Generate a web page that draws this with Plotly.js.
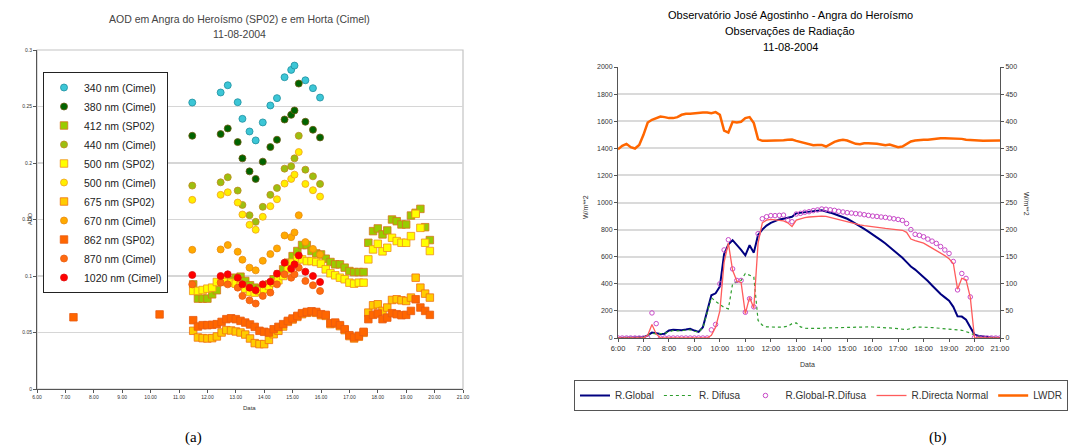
<!DOCTYPE html>
<html>
<head>
<meta charset="utf-8">
<script src="https://cdn.plot.ly/plotly-3.0.1.min.js"></script>
<style>html,body{margin:0;padding:0;background:#fff;}#chart{width:1070px;height:446px;}</style>
</head>
<body>
<div id="chart"></div>
<script>
// ---------- (a) AOD chart data ----------
var cimelTimes = ["11:28","12:28","12:43","13:04","13:14","13:29","13:42","13:57","14:13","14:27","14:43","14:57","15:04","15:13","15:27","15:43","15:58"];
var aod340  = [0.2535,0.2624,0.2688,0.2538,0.2391,0.2279,0.2200,0.2359,0.2509,0.2574,0.2759,0.2824,0.2862,null,0.2732,0.2662,0.2579];
var aod380  = [0.2241,0.2256,0.2306,0.2185,0.2041,0.1926,0.1859,0.2012,0.2141,0.2206,0.2385,0.2426,0.2465,0.2703,0.2365,0.2294,0.2226];
var aod440  = [0.1800,0.1829,0.1874,0.1756,0.1629,0.1538,0.1479,0.1612,0.1718,0.1779,0.1950,0.1971,0.2041,0.2241,0.1941,0.1882,0.1815];
var aod500c = [0.1674,0.1718,0.1741,0.1650,0.1544,0.1453,0.1409,0.1524,0.1618,0.1679,0.1818,0.1859,0.1897,0.2097,0.1815,0.1759,0.1703];
var aod670  = [0.1232,0.1235,0.1274,0.1215,0.1144,0.1074,0.1050,0.1135,0.1194,0.1244,0.1359,0.1344,0.1385,0.1538,0.1300,0.1240,0.1190];
var aod870  = [0.0926,0.0941,0.0926,0.0897,0.0824,0.0785,0.0756,0.0824,0.0853,0.0926,0.1015,0.0985,0.1015,0.1074,0.0956,0.0918,0.0868];
var aod1020 = [0.1009,0.1000,0.1015,0.0985,0.0926,0.0897,0.0874,0.0926,0.0950,0.1021,0.1118,0.1065,0.1103,0.1182,0.1038,0.1000,0.0947];

var sp02Times = ["11:30","11:40","11:50","12:00","12:10","12:20","12:30","12:40","12:50","13:00",
                 "13:10","13:20","13:30","13:40","13:50","14:00","14:10","14:20","14:30","14:40",
                 "14:50","15:00","15:10","15:20","15:30","15:40","15:50","16:00","16:10","16:20",
                 "16:30","16:40","16:50","17:00","17:10","17:20","17:30",
                 "17:40","17:50","18:00","18:10","18:20","18:30","18:40","18:50","19:00","19:10",
                 "19:20","19:30","19:40","19:50"];
var aod412 = [0.0926,0.0800,0.0800,0.0800,0.0838,0.0874,0.0976,0.0971,0.0962,0.0985,
              0.0994,0.0956,0.0918,0.0897,0.0882,0.0897,0.0926,0.0971,0.1015,0.1059,
              0.1118,0.1176,0.1221,0.1274,0.1274,0.1221,0.1200,0.1191,0.1153,0.1124,
              0.1103,0.1103,0.1074,0.1044,0.1035,0.1035,0.1035,
              0.1294,0.1397,0.1421,0.1368,0.1403,0.1500,0.1485,0.1456,0.1456,0.1535,
              0.1559,0.1594,0.1432,0.1318];
var aod500s = [0.0868,0.0868,0.0876,0.0888,0.0897,0.0947,0.0965,0.0947,0.0941,0.0932,
               0.0912,0.0888,0.0859,0.0853,0.0868,0.0882,0.0912,0.0941,0.0962,0.1000,
               0.1059,0.1118,0.1147,0.1147,0.1132,0.1132,0.1124,0.1109,0.1059,0.1024,
               0.1006,0.0985,0.0971,0.0941,0.0932,0.0941,0.0941,
               0.1147,0.1235,0.1285,0.1218,0.1250,0.1338,0.1309,0.1294,0.1294,0.1353,
               0.1550,0.1426,0.1294,0.1221];
var aod675 = [0.0515,0.0456,0.0450,0.0447,0.0450,0.0465,0.0500,0.0521,0.0518,0.0509,
              0.0500,0.0482,0.0447,0.0406,0.0397,0.0397,0.0435,0.0485,0.0515,0.0553,
              0.0594,0.0615,0.0638,0.0662,0.0674,0.0679,0.0674,0.0653,0.0647,0.0574,
              0.0579,0.0556,0.0521,0.0468,0.0447,0.0462,0.0497,
              0.0676,0.0741,0.0750,0.0691,0.0721,0.0788,0.0794,0.0785,0.0779,0.0809,
              0.0985,0.0897,0.0844,0.0809];
var early862Times = ["07:17","10:19"];
var early862 = [0.0635,0.0660];
var aod862 = [0.0609,0.0553,0.0565,0.0565,0.0568,0.0574,0.0594,0.0618,0.0626,0.0618,
              0.0603,0.0588,0.0571,0.0550,0.0515,0.0506,0.0500,0.0529,0.0550,0.0574,
              0.0603,0.0624,0.0647,0.0671,0.0682,0.0688,0.0682,0.0662,0.0656,0.0582,
              0.0588,0.0565,0.0529,0.0476,0.0456,0.0471,0.0506,
              0.0618,0.0656,0.0668,0.0618,0.0632,0.0671,0.0662,0.0653,0.0656,0.0691,
              0.0794,0.0721,0.0691,0.0656];
var hourTicks = [6,7,8,9,10,11,12,13,14,15,16,17,18,19,20,21];
var tickTextA = ["6.00","7.00","8.00","9.00","10.00","11.00","12.00","13.00","14.00","15.00","16.00","17.00","18.00","19.00","20.00","21.00"];
var tickTextB = ["6:00","7:00","8:00","9:00","10:00","11:00","12:00","13:00","14:00","15:00","16:00","17:00","18:00","19:00","20:00","21:00"];

// ---------- (b) radiation chart data ----------
var radTimes = ["6:00","6:10","6:20","6:30","6:40","6:50","7:00","7:10","7:20","7:30","7:40","7:50",
  "8:00","8:10","8:20","8:30","8:40","8:50","9:00","9:10","9:20","9:30","9:40","9:50",
  "10:00","10:10","10:20","10:30","10:40","10:50","11:00","11:10","11:20","11:30","11:40","11:50",
  "12:00","12:10","12:20","12:30","12:40","12:50","13:00","13:10","13:20","13:30","13:40","13:50",
  "14:00","14:10","14:20","14:30","14:40","14:50","15:00","15:10","15:20","15:30","15:40","15:50",
  "16:00","16:10","16:20","16:30","16:40","16:50","17:00","17:10","17:20","17:30","17:40","17:50",
  "18:00","18:10","18:20","18:30","18:40","18:50","19:00","19:10","19:20","19:30","19:40","19:50",
  "20:00","20:10","20:20","20:30","20:40","20:50","21:00"];
var rGlobal = [0,0,0,0,0,0, 5,20,40,35,30,32, 55,60,58,57,62,68, 55,45,80,200,315,330,
  380,620,690,722,690,650, 610,685,630,760,800,830, 850,865,875,880,890,895, 920,925,930,935,940,940,
  942,935,925,915,905,895, 880,862,845,825,805,785, 765,742,720,698,672,648, 622,592,560,528,505,478,
  452,420,388,355,325,300, 275,230,160,158,135,80, 25,15,10,5,3,2, 0];
var rDifusa = [0,0,0,0,0,0, 5,20,35,30,32,35, 45,55,52,55,60,60, 50,45,75,180,298,270,
  245,225,215,400,414,425, 476,465,450,130,95,82, 80,80,80,82,86,106, 112,82,72,70,69,70,
  72,74,75,76,78,80, 81,82,84,85,84,82, 81,80,78,76,74,72, 69,65,62,70,80,81,
  81,80,77,74,72,70, 69,65,60,57,48,37, 20,8,4,2,1,0, 0];
var rGlobMinusDif = [0,0,0,0,0,0, 0,0,185,106,0,0, 0,0,0,0,0,0, 0,0,0,0,60,100,
  400,650,725,510,425,425, 190,290,230,770,880,895, 903,903,905,907,870,858, 915,920,928,932,940,945,
  952,950,946,942,935,930, 925,922,918,915,910,905, 900,897,893,890,885,880, 875,868,845,800,765,758,
  747,730,715,698,675,650, 624,565,355,476,440,303, 5,0,0,0,0,0, 0];
var rDirecta = [0,0,0,0,0,0, 0,20,100,30,0,0, 0,0,0,0,0,0, 0,0,0,0,20,80,
  200,560,700,500,420,410, 180,300,220,700,850,870, 875,872,868,865,850,822, 870,880,888,893,897,900,
  900,898,890,880,870,862, 855,848,840,835,830,825, 820,815,812,809,806,803, 800,795,780,730,718,710,
  700,682,665,648,628,608, 585,550,360,440,430,300, 0,0,0,0,0,0, 0];
var lwdr = [348.3,354.5,358.2,352,349.6,356.3, 374.8,397.6,402.6,405,408.7,407.5,
  405.7,405.7,407.5,411.8,413.7,413.7, 414.9,416.1,416.1,416.1,414.9,416.8,
  411.8,382.8,379.1,398.9,397.6,398.9, 405.7,407.5,396.4,366.8,363.7,363.7,
  363.7,363.7,364.3,365,365.6,366.2, 363.7,361.9,359.4,357,355.7,356.3,
  356.3,353.3,358.2,361.9,364.3,365.6, 364.3,360.7,358.2,357.6,359.4,359.4,
  359.4,358.2,357,355.7,357,354.5, 352,353.3,358.2,362.5,364.3,365.6,
  365.6,365.6,366.8,368.1,368.7,368.7, 368.7,368.7,368.1,367.4,365.6,365.6,
  365,364.3,363.7,363.7,363.1,363.1, 364.3];

function toH(s){ var p = s.split(':'); return Number(p[0]) + Number(p[1]) / 60; }
var FONT = 'Liberation Sans, Arial, sans-serif';

function aodTrace(name, times, vals, symbol, fill, edge, size) {
  return {type:'scatter', mode:'markers', name:name, x:times.map(toH), y:vals,
    xaxis:'x', yaxis:'y', legend:'legend',
    marker:{symbol:symbol, size:size, color:fill, line:{color:edge, width:0.8}}};
}

var traces = [
  aodTrace('340 nm (Cimel)', cimelTimes, aod340, 'circle', '#3cc6d6', '#1e8fa0', 7),
  aodTrace('380 nm (Cimel)', cimelTimes, aod380, 'circle', '#006400', '#6b5a10', 7),
  aodTrace('412 nm (SP02)', sp02Times, aod412, 'square', '#99cc00', '#d9741c', 7.5),
  aodTrace('440 nm (Cimel)', cimelTimes, aod440, 'circle', '#9cbf10', '#c08a20', 7),
  aodTrace('500 nm (SP02)', sp02Times, aod500s, 'square', '#ffff00', '#f0901c', 7.5),
  aodTrace('500 nm (Cimel)', cimelTimes, aod500c, 'circle', '#ffee00', '#f0a020', 7),
  aodTrace('675 nm (SP02)', sp02Times, aod675, 'square', '#ffcc00', '#f07010', 7.5),
  aodTrace('670 nm (Cimel)', cimelTimes, aod670, 'circle', '#ffaa00', '#e88a10', 7),
  aodTrace('862 nm (SP02)', early862Times.concat(sp02Times), early862.concat(aod862), 'square', '#ff6600', '#e85a10', 7.5),
  aodTrace('870 nm (Cimel)', cimelTimes, aod870, 'circle', '#ff6a10', '#e86010', 7),
  aodTrace('1020 nm (Cimel)', cimelTimes, aod1020, 'circle', '#ff0000', '#e01010', 7),
  {type:'scatter', mode:'lines', name:'R.Global', x:radTimes.map(toH), y:rGlobal, xaxis:'x2', yaxis:'y2', legend:'legend2',
    line:{color:'#000080', width:2}},
  {type:'scatter', mode:'lines', name:'R. Difusa', x:radTimes.map(toH), y:rDifusa, xaxis:'x2', yaxis:'y2', legend:'legend2',
    line:{color:'#2e9e2e', width:1.2, dash:'dot'}},
  {type:'scatter', mode:'markers', name:'R.Global-R.Difusa', x:radTimes.map(toH), y:rGlobMinusDif, xaxis:'x2', yaxis:'y2', legend:'legend2',
    marker:{symbol:'circle-open', size:4.5, color:'#c84ac8', line:{width:1}}},
  {type:'scatter', mode:'lines', name:'R.Directa Normal', x:radTimes.map(toH), y:rDirecta, xaxis:'x2', yaxis:'y2', legend:'legend2',
    line:{color:'#ff5c5c', width:1.3}},
  {type:'scatter', mode:'lines', name:'LWDR', x:radTimes.map(toH), y:lwdr, xaxis:'x2', yaxis:'y3', legend:'legend2',
    line:{color:'#ff6600', width:2.5}}
];

function px(x){ return x / 1070; }
function py(y){ return 1 - y / 446; }
function ann(text, x, y, size, color, extra) {
  var a = {text:text, x:px(x), y:py(y), xref:'paper', yref:'paper', showarrow:false,
    xanchor:'center', yanchor:'middle', font:{family:FONT, size:size, color:color}};
  for (var k in extra) a[k] = extra[k];
  return a;
}

var layout = {
  width:1070, height:446, margin:{l:0, r:0, t:0, b:0},
  paper_bgcolor:'#ffffff', plot_bgcolor:'#ffffff',
  font:{family:FONT, color:'#222'},
  showlegend:true,
  xaxis:{domain:[px(37), px(463)], anchor:'y', range:[6,21], tickvals:hourTicks, ticktext:tickTextA,
    tickfont:{size:5, color:'#333'}, ticks:'outside', ticklen:3, tickcolor:'#555',
    showline:true, linecolor:'#555', linewidth:1, showgrid:false, zeroline:false},
  yaxis:{domain:[py(389), py(50)], anchor:'x', range:[0,0.3], dtick:0.05,
    tickfont:{size:5, color:'#333'}, ticks:'outside', ticklen:3, tickcolor:'#555',
    showline:true, linecolor:'#555', linewidth:1, gridcolor:'#d6d6d6', gridwidth:1.5, zeroline:false},
  xaxis2:{domain:[px(618), px(1000)], anchor:'y2', range:[6,21], tickvals:hourTicks, ticktext:tickTextB,
    tickfont:{size:7.5, color:'#333'}, ticks:'outside', ticklen:3, tickcolor:'#555',
    showline:true, linecolor:'#555', linewidth:1, showgrid:false, zeroline:false},
  yaxis2:{domain:[py(338), py(67)], anchor:'x2', range:[0,2000], dtick:200,
    tickfont:{size:7, color:'#333'}, ticks:'outside', ticklen:3, tickcolor:'#555',
    showline:true, linecolor:'#555', linewidth:1, gridcolor:'#dadada', gridwidth:2, zeroline:false},
  yaxis3:{overlaying:'y2', anchor:'x2', side:'right', range:[0,500], dtick:50,
    tickfont:{size:7, color:'#333'}, ticks:'outside', ticklen:3, tickcolor:'#555',
    showline:true, linecolor:'#555', linewidth:1, showgrid:false, zeroline:false},
  legend:{x:px(43), y:py(72), xanchor:'left', yanchor:'top', bgcolor:'#ffffff',
    bordercolor:'#222', borderwidth:1, font:{family:FONT, size:10.5, color:'#222'}},
  legend2:{orientation:'h', x:px(574), y:py(380), xanchor:'left', yanchor:'top', bgcolor:'#ffffff',
    bordercolor:'#555', borderwidth:1, font:{family:FONT, size:10, color:'#333'}},
  shapes:[
    {type:'rect', xref:'x domain', yref:'y domain', x0:0, x1:1, y0:0, y1:1, line:{color:'#c4c4c4', width:1.2}, layer:'below'}
  ],
  annotations:[
    ann('AOD em Angra do Heroísmo (SP02) e em Horta (Cimel)', 239, 19, 10.5, '#444'),
    ann('11-08-2004', 239, 34, 10.5, '#444'),
    ann('Observatório José Agostinho - Angra do Heroísmo', 790, 15, 11, '#000'),
    ann('Observações de Radiação', 790, 31, 11, '#000'),
    ann('11-08-2004', 790, 47, 11, '#000'),
    ann('AOD', 30, 219, 5.5, '#333', {textangle:-90}),
    ann('Data', 249, 408, 6, '#333'),
    ann('Data', 807, 364, 7, '#333'),
    ann('W/m**2', 585, 207, 7, '#333', {textangle:-90}),
    ann('W/m**2', 1027, 204, 7, '#333', {textangle:90}),
    ann('(a)', 193, 437, 15, '#000', {font:{family:'Liberation Serif, Times New Roman, serif', size:15, color:'#000'}}),
    ann('(b)', 938, 437, 15, '#000', {font:{family:'Liberation Serif, Times New Roman, serif', size:15, color:'#000'}})
  ]
};

Plotly.newPlot('chart', traces, layout, {displayModeBar:false, staticPlot:true});
</script>
</body>
</html>
